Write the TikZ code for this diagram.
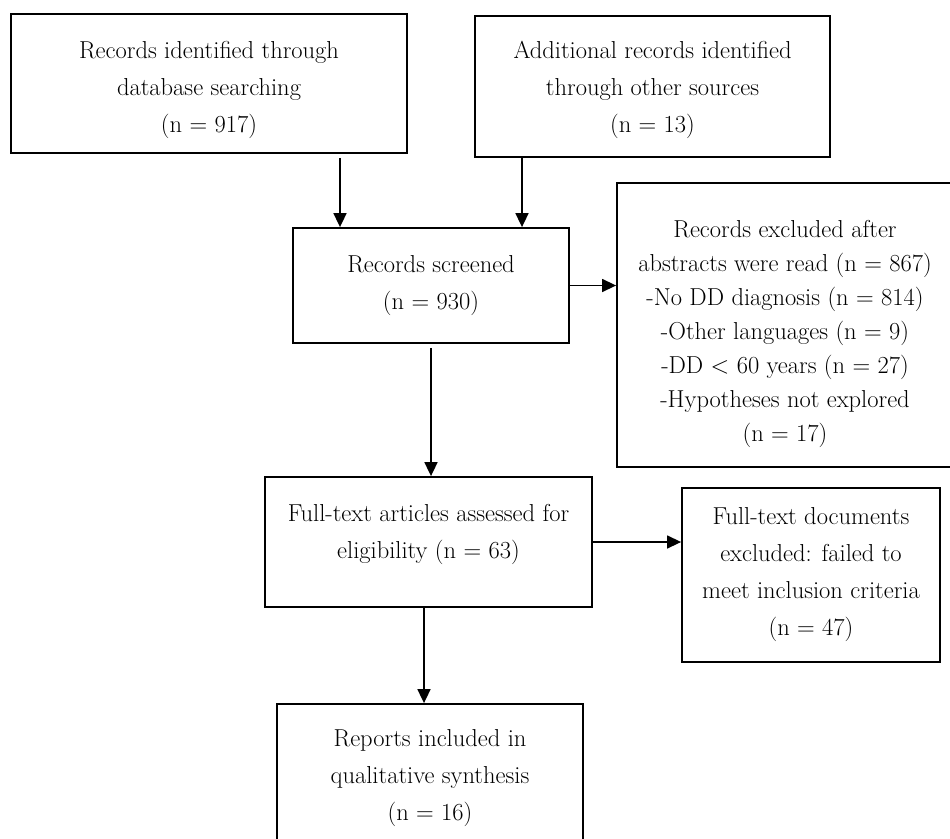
\documentclass[tikz,border=0pt]{standalone}
\usetikzlibrary{arrows.meta}
\begin{document}
\begin{tikzpicture}[x=1pt,y=-1pt,
  box/.style={draw,line width=1.8pt,inner sep=0pt,align=center,font=\fontsize{24.5}{37}\selectfont},
  arr/.style={line width=1.7pt,-{Triangle[length=14pt,width=13pt]}},
  harr/.style={line width=1.4pt,-{Triangle[length=14pt,width=13pt]}}]
\useasboundingbox (0,0) rectangle (950,838);
\clip (0,0) rectangle (950,838);
\node[box,minimum width=396pt,minimum height=139pt] (b1) at (209,83.5)
  {\rule{0pt}{30pt}Records identified through\\database searching\\(n = 917)};
\node[box,minimum width=355pt,minimum height=141pt] (b2) at (652.5,86.5)
  {\rule{0pt}{24pt}Additional records identified\\through other sources\\(n = 13)};
\node[box,minimum width=276pt,minimum height=115pt] (b3) at (431,285.5)
  {Records screened\\(n = 930)};
\node[box,minimum width=336pt,minimum height=284pt,font=\fontsize{24.5}{34}\selectfont] (b4) at (785,325)
  {\rule{0pt}{36pt}Records excluded after\\abstracts were read (n = 867)\\-No DD diagnosis (n = 814)\\-Other languages (n = 9)\\-DD < 60 years (n = 27)\\-Hypotheses not explored\\(n = 17)};
\node[box,minimum width=327pt,minimum height=130pt] (b5) at (428.5,542)
  {Full-text articles assessed for\\eligibility (n = 63)\rule[-22pt]{0pt}{0pt}};
\node[box,minimum width=258pt,minimum height=174pt] (b6) at (811,575)
  {Full-text documents\\excluded: failed to\\meet inclusion criteria\\(n = 47)};
\node[box,minimum width=306pt,minimum height=148pt] (b7) at (430,778)
  {Reports included in\\qualitative synthesis\\(n = 16)};
\coordinate (c1) at (340,0);
\coordinate (c2) at (522,0);
\coordinate (c3) at (424,0);
\draw[arr,shorten <=4pt] (b1.south -| c1) -- (b3.north -| c1);
\draw[arr] (b2.south -| c2) -- (b3.north -| c2);
\draw[harr] (b3.east) -- (b4.west |- b3.east);
\draw[arr,shorten <=4pt] (b3.south) -- (b5.north -| b3.south);
\draw[harr] (b5.east) -- (b6.west |- b5.east);
\draw[arr] (b5.south -| c3) -- (b7.north -| c3);
\end{tikzpicture}
\end{document}
